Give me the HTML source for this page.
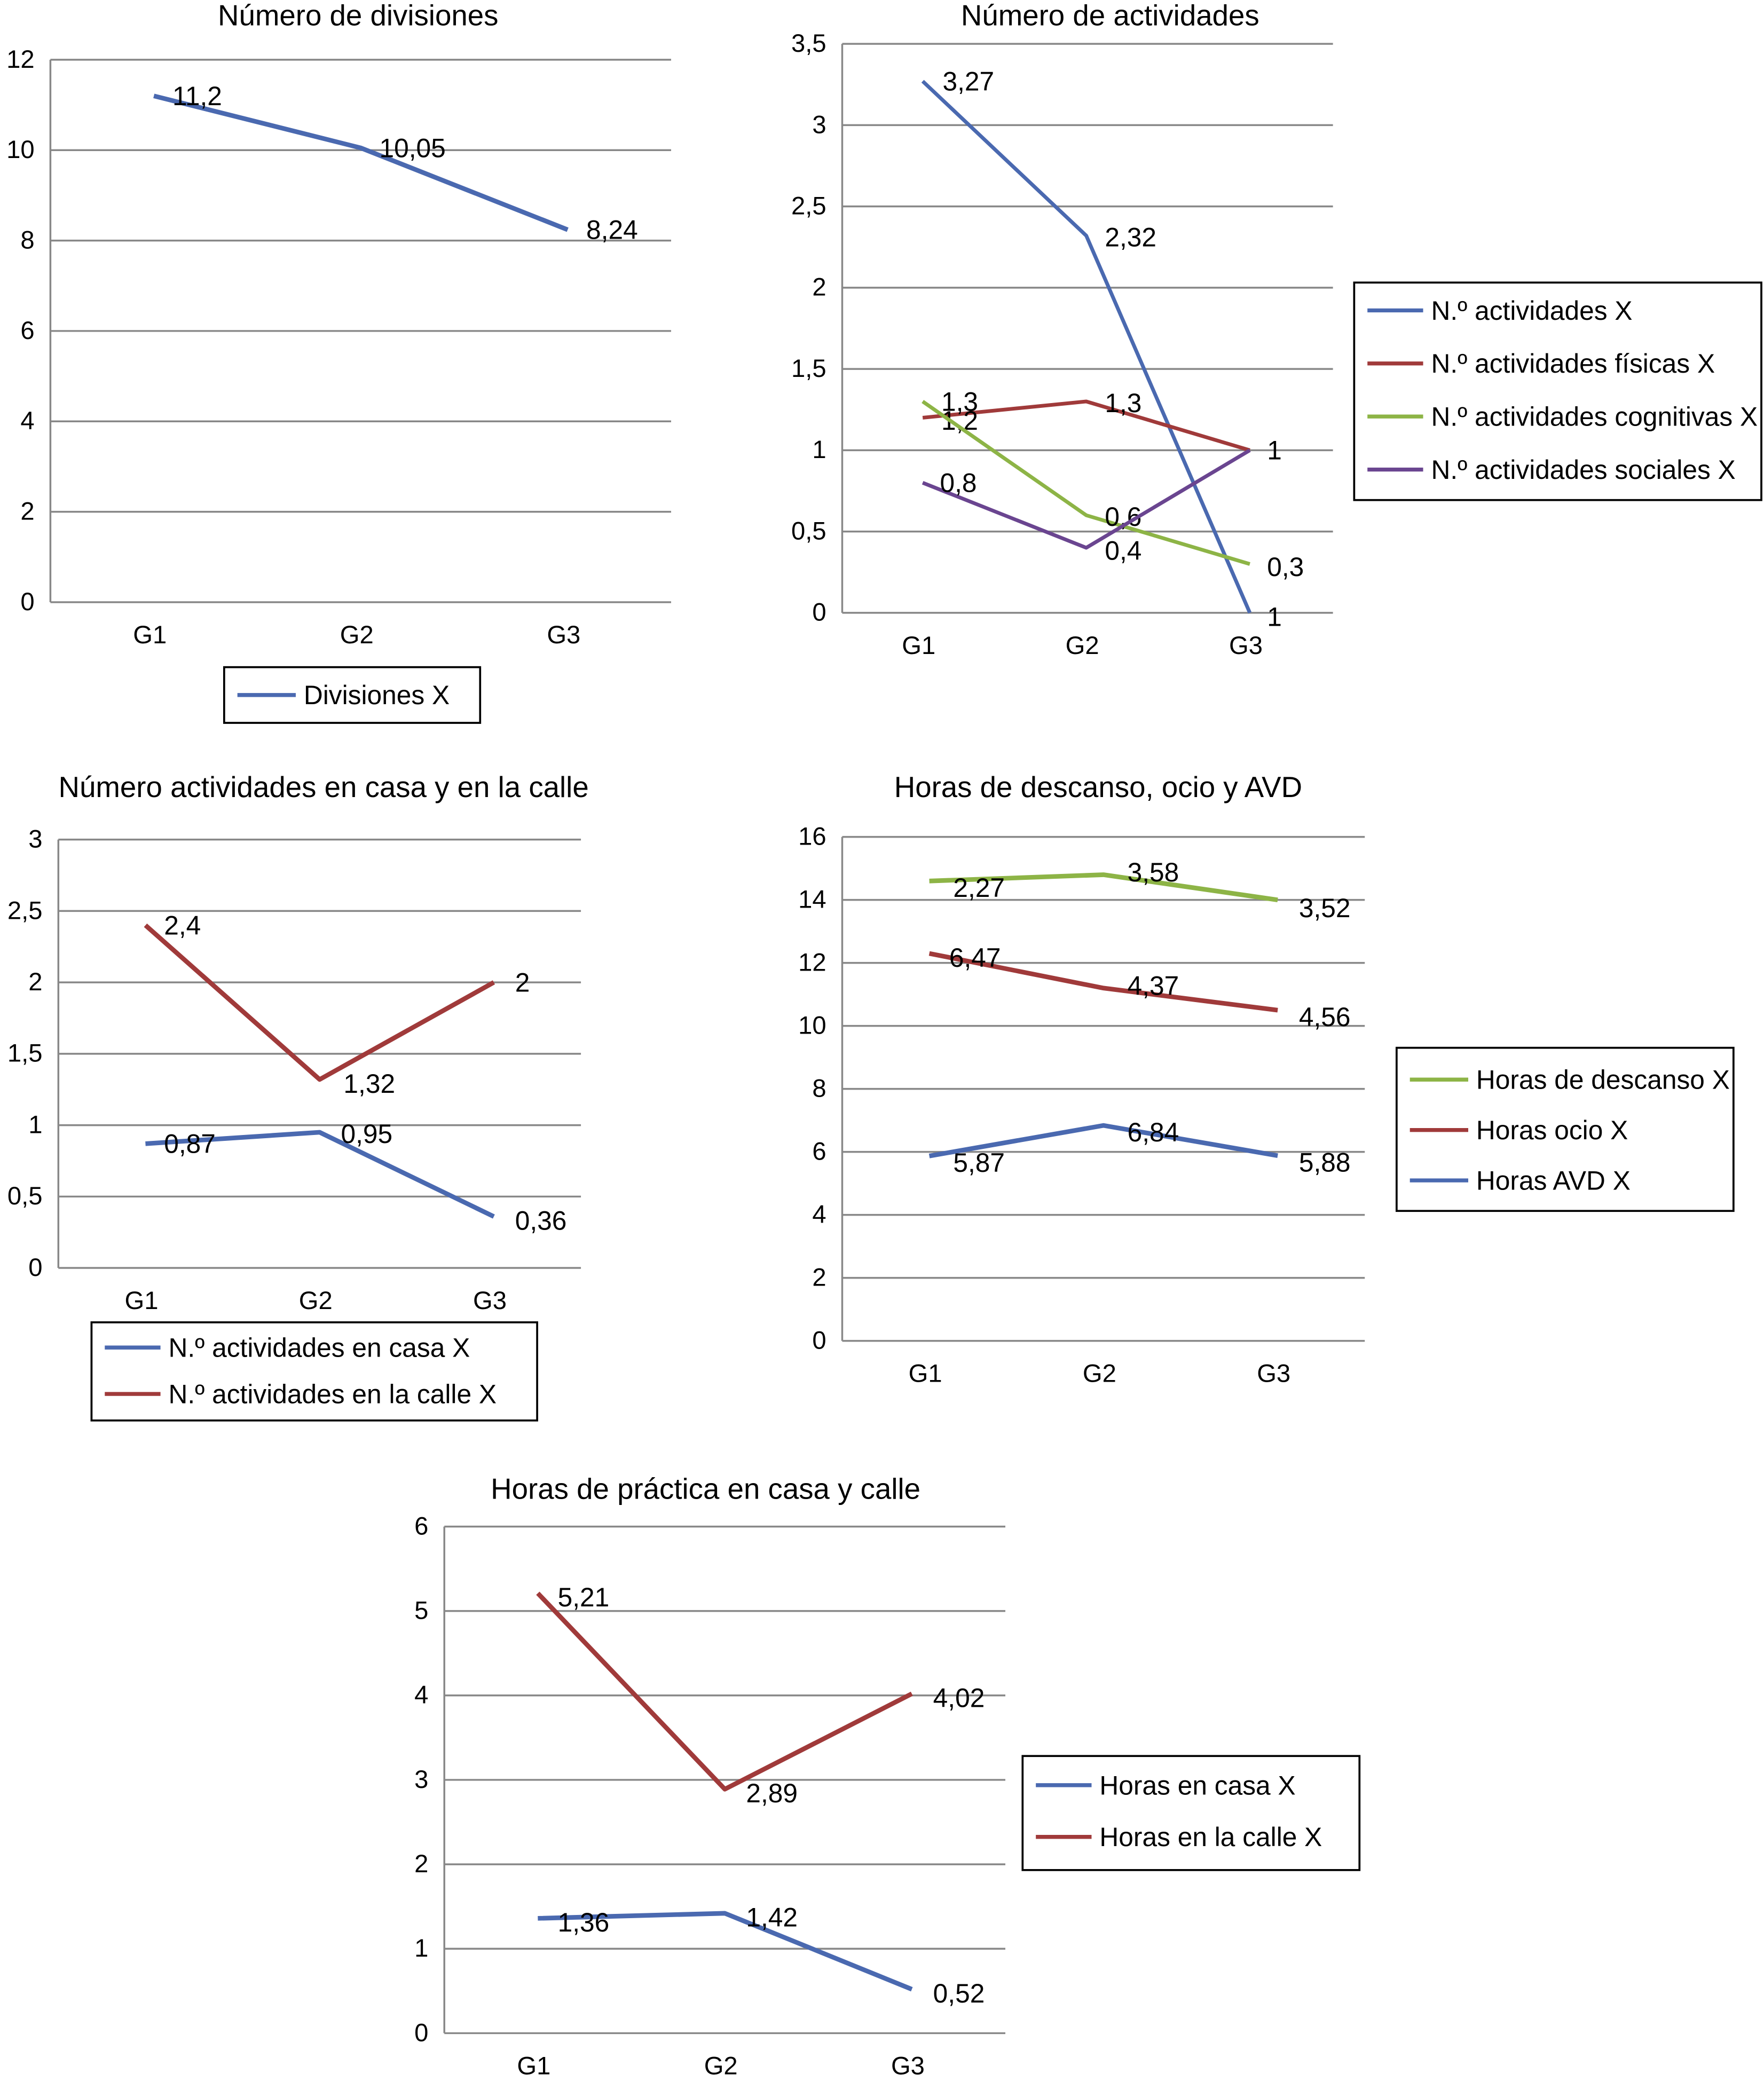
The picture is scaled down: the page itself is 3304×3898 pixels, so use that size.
<!DOCTYPE html>
<html><head><meta charset="utf-8"><style>
html,body{margin:0;padding:0;background:#fff}
svg{display:block}
text{font-family:"Liberation Sans",sans-serif;fill:#000}
</style></head><body>
<svg id="s" width="3304" height="3898" viewBox="0 0 1330 1569" xmlns="http://www.w3.org/2000/svg"></svg>
<script>
const cats=["G1","G2","G3"];
// Chart 1
const c1Div=[11.2,10.05,8.24];
const c1Lab=["11,2","10,05","8,24"];
const c1Ticks=["0","2","4","6","8","10","12"];
// Chart 2
const c2Act=[3.27,2.32,0];
const c2ActLab=["3,27","2,32","1"];
const c2Fis=[1.2,1.3,1];
const c2FisLab=["1,2","1,3","1"];
const c2Cog=[1.3,0.6,0.3];
const c2CogLab=["1,3","0,6","0,3"];
const c2Soc=[0.8,0.4,1];
const c2SocLab=["0,8","0,4",""];
const c2Ticks=["0","0,5","1","1,5","2","2,5","3","3,5"];
// Chart 3
const c3Casa=[0.87,0.95,0.36];
const c3CasaLab=["0,87","0,95","0,36"];
const c3Calle=[2.4,1.32,2];
const c3CalleLab=["2,4","1,32","2"];
const c3Ticks=["0","0,5","1","1,5","2","2,5","3"];
// Chart 4
const c4Desc=[14.6,14.8,14];
const c4DescLab=["2,27","3,58","3,52"];
const c4Ocio=[12.3,11.2,10.5];
const c4OcioLab=["6,47","4,37","4,56"];
const c4Avd=[5.87,6.84,5.88];
const c4AvdLab=["5,87","6,84","5,88"];
const c4Ticks=["0","2","4","6","8","10","12","14","16"];
// Chart 5
const c5Casa=[1.36,1.42,0.52];
const c5CasaLab=["1,36","1,42","0,52"];
const c5Calle=[5.21,2.89,4.02];
const c5CalleLab=["5,21","2,89","4,02"];
const c5Ticks=["0","1","2","3","4","5","6"];

const BLUE="#4a69b0",RED="#a03a3a",GREEN="#8db446",PURPLE="#6a4590";
const NS="http://www.w3.org/2000/svg";
const svg=document.getElementById('s');
function el(tag,attrs,parent){const e=document.createElementNS(NS,tag);for(const k in attrs)e.setAttribute(k,attrs[k]);(parent||svg).appendChild(e);return e;}
function txt(x,y,s,anchor,parent,size){const t=el('text',{x:x,y:y,'font-size':size||20,'text-anchor':anchor||'start'},parent);t.textContent=s;return t;}

function chart(cfg){
  const g=el('g',{});
  
  
  const {x0,x1,yTop,yBot,max}=cfg;
  const yS=v=>yBot-(v/max)*(yBot-yTop);
  const step=(x1-x0)/cats.length;
  const xS=i=>x0+step*(i+0.5)+(cfg.xoff||0);
  const t=txt(cfg.titleX,cfg.titleY,cfg.title,'middle',g,22);
  
  
  const n=cfg.ticks.length-1;
  cfg.ticks.forEach((lab,i)=>{
    const v=max*i/n;const y=yS(v);
    const l=el('line',{x1:x0,x2:x1,y1:y,y2:y,stroke:'#888','stroke-width':1.4},g);
    
    
    const tt=txt(x0-12,y+6,lab,'end',g,19);
    
    
  });
  el('line',{x1:x0,x2:x0,y1:yTop,y2:yBot,stroke:'#888','stroke-width':1.4},g);
  cats.forEach((c,i)=>{
    const tt=txt(xS(i)-3,yBot+31,c,'middle',g,19);
    
    
  });
  cfg.series.forEach(s=>{
    const pts=s.vals.map((v,i)=>xS(i)+','+yS(v)).join(' ');
    const p=el('polyline',{points:pts,fill:'none',stroke:s.color,'stroke-width':cfg.lw||3.5,'stroke-linejoin':'round'},g);
    
    
    s.vals.forEach((v,i)=>{
      const tt=txt(xS(i)+(s.dx?s.dx[i]:14),yS(v)+(s.dy?s.dy[i]:6),s.labs[i],'start',g,20);
      
      
    });
  });
  const L=cfg.legend;
  const lg=el('g',{},g);
  
  
  el('rect',{x:L.x,y:L.y,width:L.w,height:L.h,fill:'#fff',stroke:'#000','stroke-width':1.5},lg);
  cfg.series.forEach((s,i)=>{
    const yy=L.y+L.first+i*L.gap;
    el('line',{x1:L.x+10,x2:L.x+10+L.ll,y1:yy,y2:yy,stroke:s.color,'stroke-width':3},lg);
    const tt=txt(L.x+16+L.ll,yy+7,s.name,'start',lg,20);
    
    
  });
}

chart({name:'chart-divisiones',title:'Número de divisiones',titleX:270,titleY:19,x0:38,x1:506,yTop:45,yBot:454,max:12,ticks:c1Ticks,
  series:[{name:'Divisiones X',color:BLUE,vals:c1Div,labs:c1Lab,dx:[14,14,14],dy:[7,7,7]}],
  legend:{x:169,y:503,w:193,h:42,first:21,gap:0,ll:44}});

chart({name:'chart-actividades',title:'Número de actividades',titleX:837,titleY:19,x0:635,x1:1005,yTop:33,yBot:462,max:3.5,ticks:c2Ticks,lw:2.8,xoff:-1,
  series:[
   {name:'N.º actividades X',color:BLUE,vals:c2Act,labs:c2ActLab,dx:[15,14,13],dy:[7,8,10]},
   {name:'N.º actividades físicas X',color:RED,vals:c2Fis,labs:c2FisLab,dx:[14,14,13],dy:[9,8,7]},
   {name:'N.º actividades cognitivas X',color:GREEN,vals:c2Cog,labs:c2CogLab,dx:[14,14,13],dy:[7,8,9]},
   {name:'N.º actividades sociales X',color:PURPLE,vals:c2Soc,labs:c2SocLab,dx:[13,14,13],dy:[7,9,7]}],
  legend:{x:1021,y:213,w:307,h:164,first:21,gap:40,ll:42}});

chart({name:'chart-casa-calle',title:'Número actividades en casa y en la calle',titleX:244,titleY:601,x0:44,x1:438,yTop:633,yBot:956,max:3,ticks:c3Ticks,
  series:[
   {name:'N.º actividades en casa X',color:BLUE,vals:c3Casa,labs:c3CasaLab,dx:[14,16,16],dy:[7,8,10]},
   {name:'N.º actividades en la calle X',color:RED,vals:c3Calle,labs:c3CalleLab,dx:[14,18,16],dy:[7,10,7]}],
  legend:{x:69,y:997,w:336,h:74,first:19,gap:35,ll:42}});

chart({name:'chart-horas-descanso',title:'Horas de descanso, ocio y AVD',titleX:828,titleY:601,x0:635,x1:1029,yTop:631,yBot:1011,max:16,ticks:c4Ticks,
  series:[
   {name:'Horas de descanso X',color:GREEN,vals:c4Desc,labs:c4DescLab,dx:[18,18,16],dy:[12,5,13]},
   {name:'Horas ocio X',color:RED,vals:c4Ocio,labs:c4OcioLab,dx:[15,18,16],dy:[10,5,12]},
   {name:'Horas AVD X',color:BLUE,vals:c4Avd,labs:c4AvdLab,dx:[18,18,16],dy:[12,12,12]}],
  legend:{x:1053,y:790,w:254,h:123,first:24,gap:38,ll:44}});

chart({name:'chart-horas-practica',title:'Horas de práctica en casa y calle',titleX:532,titleY:1130,x0:335,x1:758,yTop:1151,yBot:1533,max:6,ticks:c5Ticks,
  series:[
   {name:'Horas en casa X',color:BLUE,vals:c5Casa,labs:c5CasaLab,dx:[15,16,16],dy:[10,10,10]},
   {name:'Horas en la calle X',color:RED,vals:c5Calle,labs:c5CalleLab,dx:[15,16,16],dy:[10,10,10]}],
  legend:{x:771,y:1324,w:254,h:86,first:22,gap:39,ll:42}});
</script>
</body></html>
